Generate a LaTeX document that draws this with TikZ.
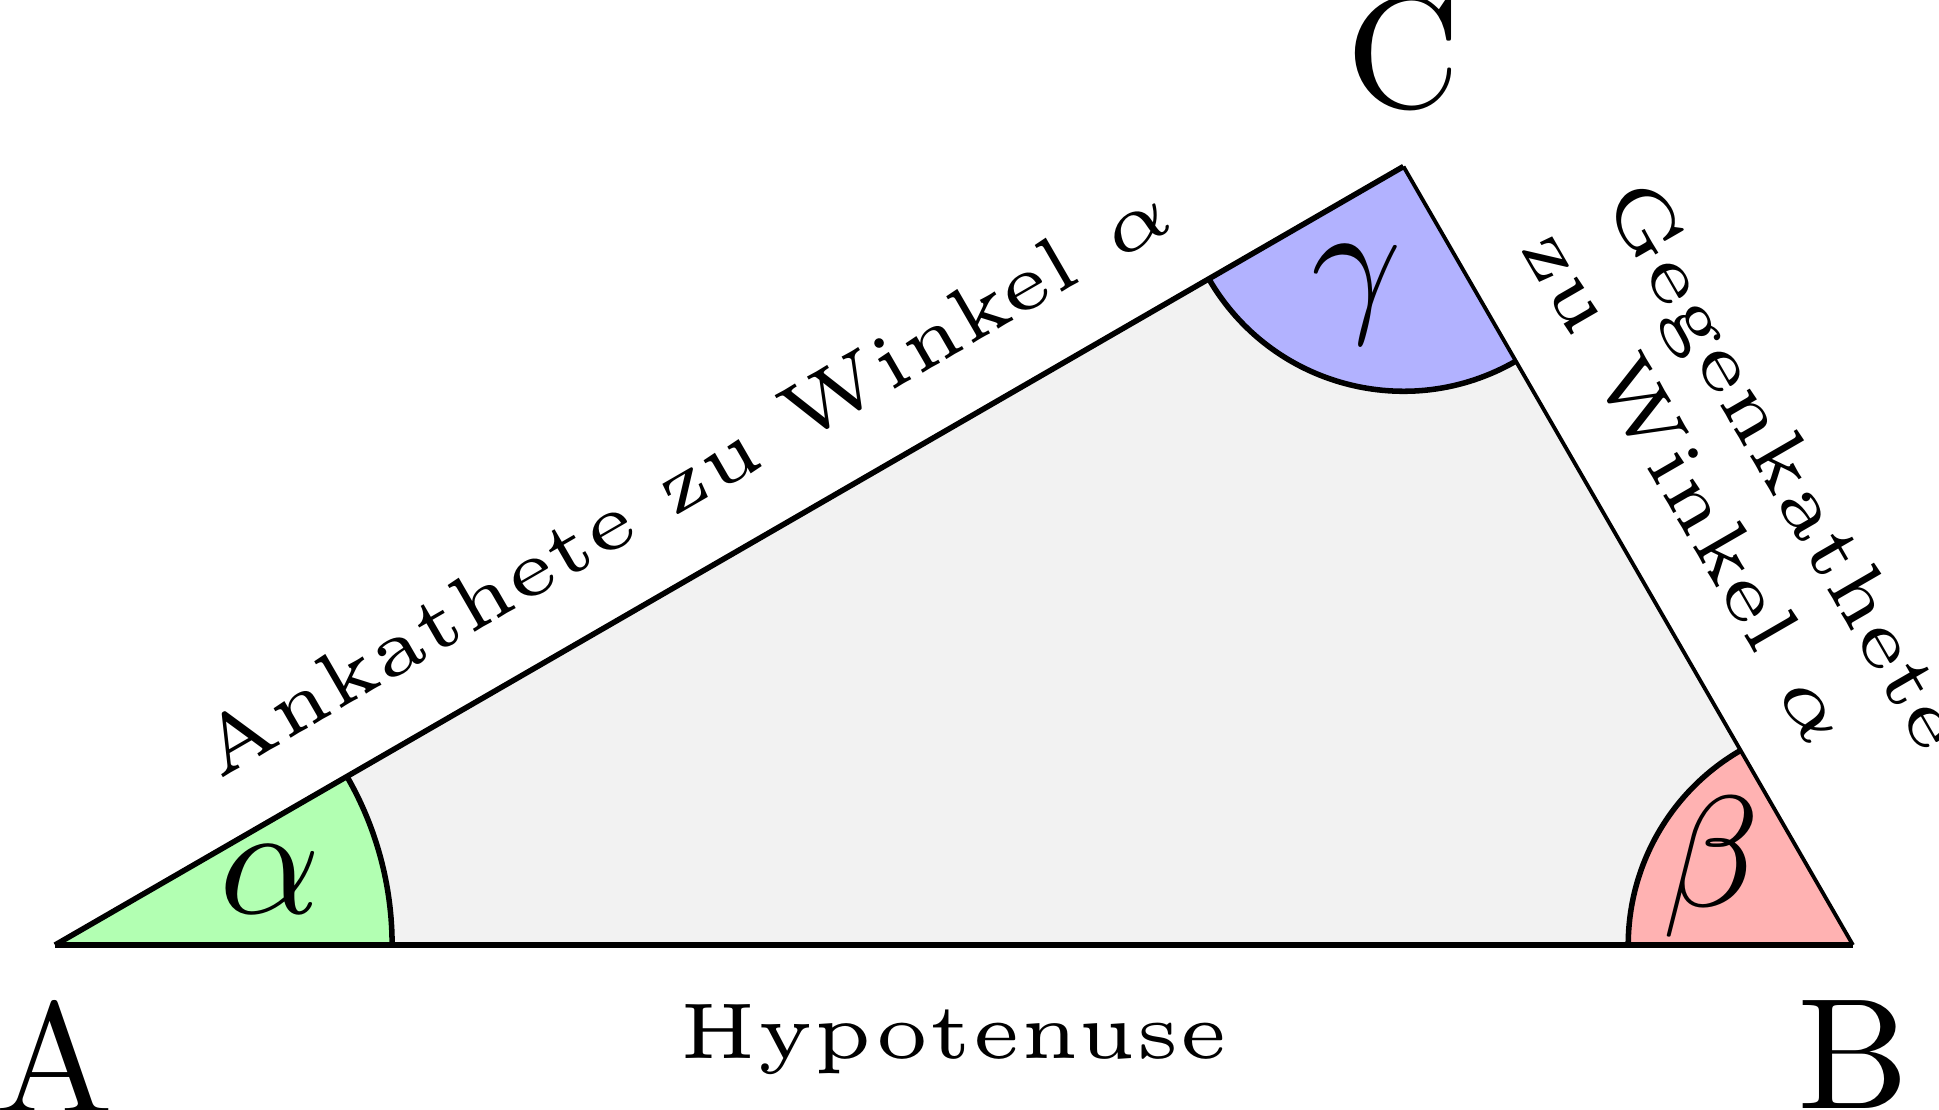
\documentclass[tikz,border=0pt]{standalone}
\usepackage{amsmath}
\usepackage{amssymb}
\usepackage{tikz}
\usetikzlibrary{positioning,calc}
\tikzset{
  edge/.style     = {draw, line width=0.35pt},
  thinedge/.style = {draw, line width=0.24pt},
  side/.style     = {font=\tiny, inner sep=3.6pt},
  corner/.style   = {inner sep=0.3333em}
}
\begin{document}
\begin{tikzpicture}[scale=0.5]
\useasboundingbox (-0.2447,-0.7297) rectangle (8.3826,4.2047);

% the three corners
\coordinate (A) at (0,0);
\coordinate (B) at (8,0);
\coordinate (C) at (6,3.4641);

% area and angle sectors
\fill[gray!10] (A) -- (B) -- (C) -- cycle;
\fill[green!30] (A) -- ++(0:1.5) arc[start angle=0, end angle=30, radius=1.5] -- cycle;
\fill[red!30] (B) -- ++(120:1) arc[start angle=120, end angle=180, radius=1] -- cycle;
\fill[blue!30] (C) -- ++(210:1) arc[start angle=210, end angle=300, radius=1] -- cycle;
\draw[edge] (A) ++(0:1.5) arc[start angle=0, end angle=30, radius=1.5];
\draw[edge] (B) ++(120:1) arc[start angle=120, end angle=180, radius=1];
\draw[edge] (C) ++(210:1) arc[start angle=210, end angle=300, radius=1];

% sides with their names
\draw[edge] (A) -- node[side, below] (hyp) {Hypotenuse} (B);
\draw[edge] (A) -- node[side, above, sloped] (ank) {Ankathete zu Winkel $\alpha$} (C);
\draw[thinedge] (C) -- node[side, above, sloped, align=left] (geg) {Gegenkathete\\zu Winkel $\alpha$} (B);

% corner names
\node[corner, below=0pt of A] (lA) {A};
\node[corner, below=0pt of B] (lB) {B};
\node[corner, above=0pt of C] (lC) {C};

% angle names
\node (al) at ($(A)+(17:1)$) {$\alpha$};
\node (be) at ($(B)+(151:0.72)$) {$\beta$};
\node (ga) at ($(C)+(250:0.61)$) {$\gamma$};
\end{tikzpicture}
\end{document}
